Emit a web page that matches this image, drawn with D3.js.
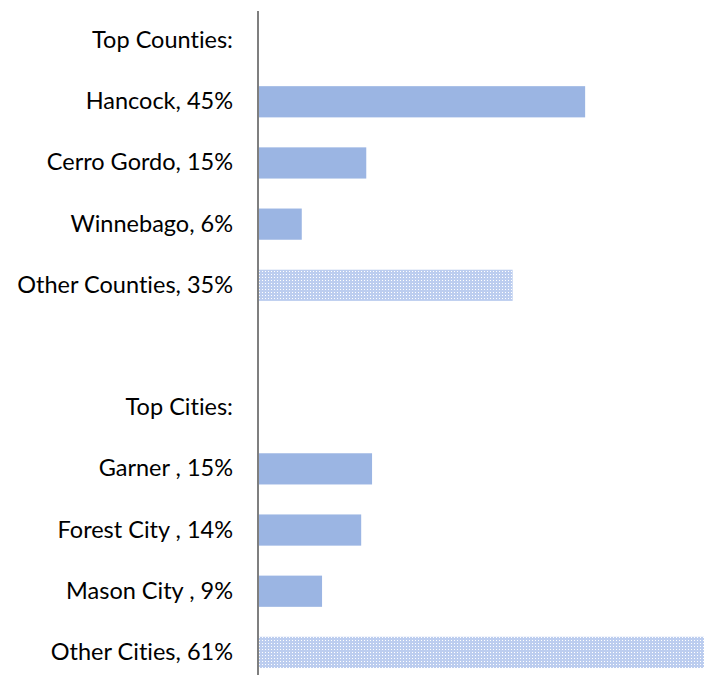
<!DOCTYPE html>
<html>
<head>
<meta charset="utf-8">
<script src="https://cdn.jsdelivr.net/npm/d3@7"></script>
<style>
  body { margin: 0; background: #fff; }
  text { font-family: Lato, "Open Sans", sans-serif; font-size: 23.5px; fill: #000; font-variant-ligatures: none; }
</style>
</head>
<body>
<div id="chart"></div>
<script>
// constants
const w = 704;
const h = 675;
const axisX = 258;
const barColor = "#9bb5e3";

// data
const labels = [
  "Top Counties:", "Hancock, 45%", "Cerro Gordo, 15%", "Winnebago, 6%", "Other Counties, 35%",
  "", "Top Cities:", "Garner , 15%", "Forest City , 14%", "Mason City , 9%", "Other Cities, 61%"
];
const values = [null, 45, 14.8, 5.9, 35, null, null, 15.6, 14.1, 8.7, 61.4];
const isOther = [false, false, false, false, true, false, false, false, false, false, true];

const rows = labels.map((l, i) => ({ key: "r" + i, label: l, value: values[i], other: isOther[i] }));

// svg
const svg = d3.select("#chart")
  .append("svg")
  .attr("width", w)
  .attr("height", h);

// dotted pattern for the "other" bars
const pat = svg.append("defs")
  .append("pattern")
  .attr("id", "dots")
  .attr("patternUnits", "userSpaceOnUse")
  .attr("width", 3)
  .attr("height", 3);
pat.append("rect").attr("width", 3).attr("height", 3).attr("fill", "#bccdef");
pat.append("rect").attr("x", 1).attr("y", 1).attr("width", 1).attr("height", 1).attr("fill", "#ffffff");

// scales
const yScale = d3.scaleBand()
  .domain(rows.map(d => d.key))
  .range([10, 683])
  .paddingInner(0.49)
  .paddingOuter(0.245);

const xScale = d3.scaleLinear()
  .domain([0, 61.4])
  .range([axisX + 1, w]);

// bars
svg.selectAll("rect.bar")
  .data(rows.filter(d => d.value != null))
  .enter()
  .append("rect")
  .attr("class", "bar")
  .attr("x", xScale(0))
  .attr("y", d => yScale(d.key))
  .attr("width", d => xScale(d.value) - xScale(0))
  .attr("height", yScale.bandwidth())
  .attr("fill", d => d.other ? "url(#dots)" : barColor);

// category axis
const yAxis = d3.axisLeft(yScale)
  .tickSize(0)
  .tickPadding(25)
  .tickFormat(k => rows.find(d => d.key === k).label);

const g = svg.append("g")
  .attr("transform", `translate(${axisX},0)`)
  .call(yAxis);
g.select(".domain")
  .attr("d", `M0,11V${h}`)
  .attr("stroke", "#7f7f7f")
  .attr("stroke-width", 2);
g.selectAll("text")
  .attr("font-family", null)
  .attr("font-size", null);
</script>
</body>
</html>
